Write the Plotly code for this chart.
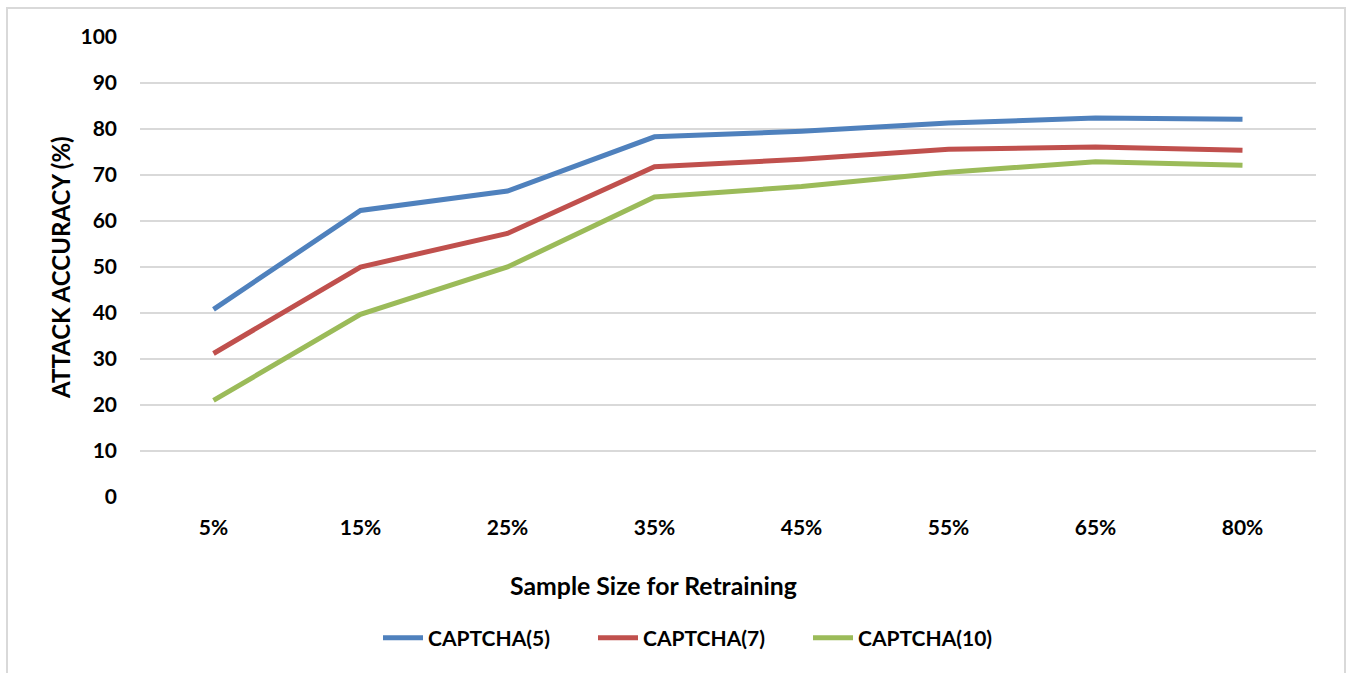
import plotly.graph_objects as go

sample_sizes = ["5%", "15%", "25%", "35%", "45%", "55%", "65%", "80%"]
captcha5 = [40.8, 62.3, 66.5, 78.3, 79.5, 81.3, 82.4, 82.1]
captcha7 = [31.2, 50.0, 57.3, 71.8, 73.4, 75.6, 76.1, 75.4]
captcha10 = [21.0, 39.7, 50.0, 65.2, 67.5, 70.6, 72.9, 72.1]

series = [
    ("CAPTCHA(5)", captcha5, "#4f81bd"),
    ("CAPTCHA(7)", captcha7, "#c0504d"),
    ("CAPTCHA(10)", captcha10, "#9bbb59"),
]

FONT = "Lato"

fig = go.Figure()
for name, vals, color in series:
    fig.add_trace(go.Scatter(
        x=sample_sizes, y=vals, name=name, mode="lines",
        line=dict(color=color, width=5),
    ))

W, H = 1351, 673
L, R, T, B = 140, 35, 37, 176
pw, ph = W - L - R, H - T - B


def px_x(x):
    return (x - L) / pw


def px_y(y):
    return (H - B - y) / ph


fig.update_layout(
    width=W, height=H,
    margin=dict(l=L, r=R, t=T, b=B),
    paper_bgcolor="white", plot_bgcolor="white",
    showlegend=True,
    legend=dict(
        orientation="h", x=px_x(378), xanchor="left", y=px_y(638), yanchor="middle",
        font=dict(family=FONT, size=21, color="black", weight="bold"),
        itemwidth=40, entrywidth=160, entrywidthmode="pixels", tracegroupgap=0,
    ),
    xaxis=dict(
        type="category", range=[-0.5, 7.5],
        showgrid=False, zeroline=False, showline=False, ticks="",
        tickfont=dict(family=FONT, size=21, color="black", weight="bold"),
        ticklabelstandoff=16,
    ),
    yaxis=dict(
        range=[0, 100], dtick=10,
        showgrid=True, gridcolor="#d9d9d9", gridwidth=1.5,
        zeroline=False, showline=False, ticks="",
        tickfont=dict(family=FONT, size=21, color="black", weight="bold"),
        ticklabelstandoff=22,
    ),
    shapes=[dict(
        type="rect", xref="paper", yref="paper",
        x0=px_x(7), x1=px_x(1345), y0=px_y(690), y1=px_y(8),
        line=dict(color="#d9d9d9", width=2), fillcolor="rgba(0,0,0,0)", layer="below",
    )],
    annotations=[
        dict(text="Sample Size for Retraining", xref="paper", yref="paper",
             x=px_x(653), y=px_y(585), xanchor="center", yanchor="middle",
             showarrow=False, font=dict(family=FONT, size=24.8, color="black", weight="bold")),
        dict(text="ATTACK ACCURACY (%)", xref="paper", yref="paper",
             x=px_x(60), y=px_y(267), xanchor="center", yanchor="middle", textangle=-90,
             showarrow=False, font=dict(family=FONT, size=24, color="black", weight="bold")),
    ],
)

fig.write_html("out.html")
